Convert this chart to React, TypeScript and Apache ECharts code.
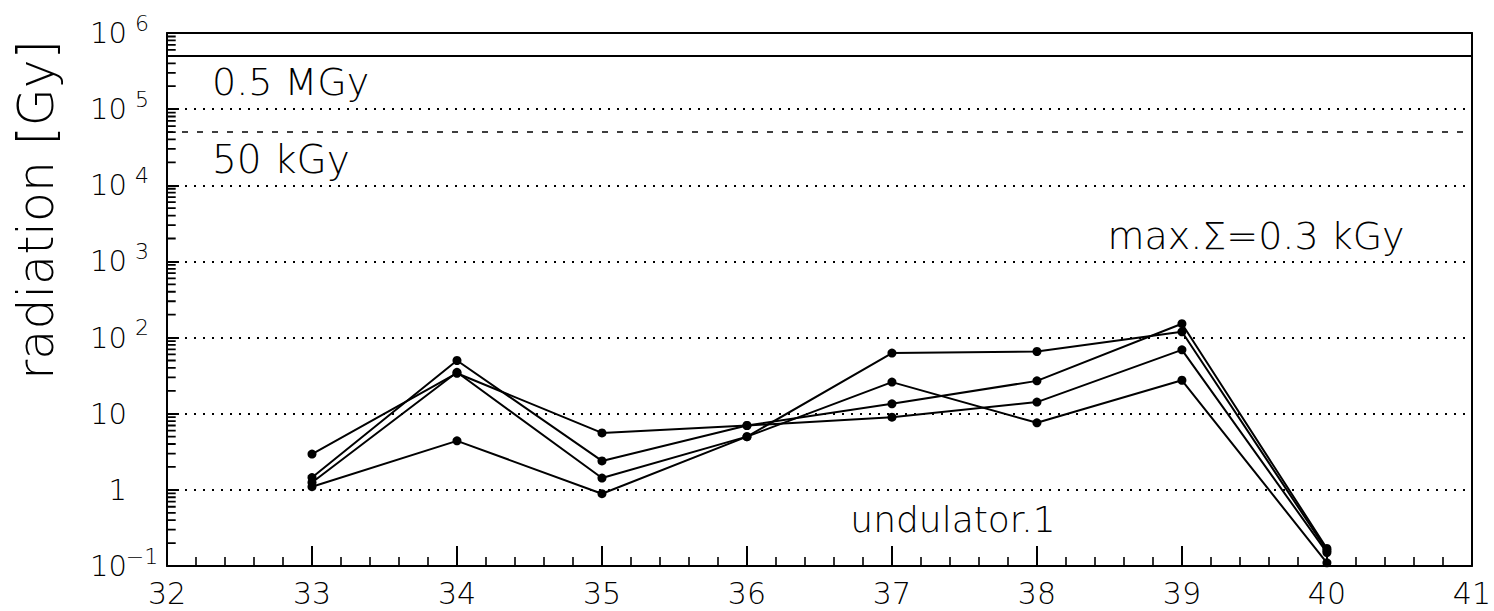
import React, { useEffect, useRef } from "react";
import * as echarts from "echarts";

// Undulator stations along the beam line
const stations = [33, 34, 35, 36, 37, 38, 39, 40];

// Accumulated dose per station [Gy], four dosimeter channels
const doseA = [2.95, 34, 5.6, 7.0, 9.0, 14.2, 69, 0.15];
const doseB = [1.45, 50, 2.4, 7.0, 13.5, 27, 152, 0.17];
const doseC = [1.25, 35, 1.43, 5.0, 62.5, 65.6, 119, 0.16];
const doseD = [1.1, 4.4, 0.89, 5.0, 26, 7.6, 27.5, 0.11];

// Axis ranges and tick labelling
const xMin = 32;
const xMax = 41;
const yDecadeExponents = [-1, 0, 1, 2, 3, 4, 5, 6];
const minorTickLength = 0.06; // in x units

// Dose limits
const limitMaterial = 5e5; // 0.5 MGy
const limitMagnet = 5e4; // 50 kGy
const limitLabels = ["0.5 MGy", "50 kGy"];
const sumLabel = "max.\u03A3=0.3 kGy";
const regionLabel = "undulator.1";
const yTitle = "radiation [Gy]";

const FONT = "DejaVu Sans";
const WEIGHT = 300;
const INK = "#000";

// Logarithmic minor tick positions (2..9 within each decade)
const minorTickValues: number[] = [];
for (let i = 0; i < yDecadeExponents.length - 1; i++) {
  for (let m = 2; m <= 9; m++) {
    minorTickValues.push(m * Math.pow(10, yDecadeExponents[i]));
  }
}

// Comb of short horizontal segments, separated by gaps
const minorTickComb: any[] = [];
minorTickValues.forEach((v) => {
  minorTickComb.push([xMin, v], [xMin + minorTickLength, v], [xMin, "-"]);
});

function decadeLabel(v: number): string {
  const e = Math.round(Math.log10(v));
  if (e === 0) return "{b|1}{e| }";
  if (e === 1) return "{b|10}{e| }";
  const sup = e < 0 ? "\u2212" + Math.abs(e) : String(e);
  return "{b|10}{s|" + sup + "}";
}

function makeSeries(name: string, values: number[]) {
  return {
    name,
    type: "line",
    xAxisIndex: 0,
    yAxisIndex: 0,
    data: stations.map((s, i) => [s, values[i]]),
    symbol: "circle",
    symbolSize: 9,
    itemStyle: { color: INK },
    lineStyle: { color: INK, width: 2 },
    z: 5,
  };
}

export default function App() {
  const ref = useRef<HTMLDivElement>(null);

  useEffect(() => {
    if (!ref.current) return;
    const chart = echarts.init(ref.current, undefined, { renderer: "svg" });

    const seriesA: any = makeSeries("A", doseA);
    seriesA.markLine = {
      silent: true,
      symbol: "none",
      label: { show: false },
      data: [
        { yAxis: limitMaterial, lineStyle: { type: "solid", width: 2, color: INK } },
        { yAxis: limitMagnet, lineStyle: { type: [6, 9], width: 1.6, color: INK } },
      ],
    };

    // log-scale minor ticks along the left axis, pointing into the plot
    const minorTickSeries = {
      name: "ticks",
      type: "line",
      xAxisIndex: 0,
      yAxisIndex: 0,
      data: minorTickComb,
      symbol: "none",
      showSymbol: false,
      connectNulls: false,
      clip: false,
      lineStyle: { color: INK, width: 1.8 },
      z: 6,
    };

    const textStyle = { fontFamily: FONT, fontWeight: WEIGHT, fill: INK };

    chart.setOption({
      animation: false,
      backgroundColor: "#fff",
      textStyle: { color: INK },
      grid: { left: 167, right: 14, top: 33, bottom: 45, containLabel: false },
      xAxis: [
        {
          type: "value",
          min: xMin,
          max: xMax,
          interval: 1,
          axisLine: { show: true, onZero: false, lineStyle: { color: INK, width: 2 } },
          axisTick: { show: true, inside: true, length: 20, lineStyle: { color: INK, width: 2 } },
          minorTick: { show: true, splitNumber: 5, length: 9, lineStyle: { color: INK, width: 1.6 } },
          axisLabel: { color: INK, fontSize: 30, fontFamily: FONT, fontWeight: WEIGHT, margin: 12 },
          splitLine: { show: false },
        },
        {
          type: "value",
          position: "top",
          min: xMin,
          max: xMax,
          axisLine: { show: true, onZero: false, lineStyle: { color: INK, width: 2 } },
          axisTick: { show: false },
          axisLabel: { show: false },
          splitLine: { show: false },
        },
      ],
      yAxis: [
        {
          type: "log",
          logBase: 10,
          min: 0.1,
          max: 1e6,
          splitNumber: 7,
          axisLine: { show: true, onZero: false, lineStyle: { color: INK, width: 2 } },
          axisTick: { show: true, inside: true, length: 12, lineStyle: { color: INK, width: 2 } },
          axisLabel: {
            margin: 14,
            color: INK,
            formatter: (v: number) => decadeLabel(v),
            rich: {
              b: { fontSize: 29, fontFamily: FONT, fontWeight: WEIGHT, color: INK },
              s: {
                fontSize: 22,
                fontFamily: FONT,
                fontWeight: WEIGHT,
                color: INK,
                padding: [0, 0, 20, 4],
                width: 22,
                align: "left",
              },
              e: { fontSize: 22, fontFamily: FONT, width: 26, color: INK },
            },
          },
          splitLine: { show: true, lineStyle: { color: INK, width: 2, type: [2, 7] } },
        },
        {
          type: "log",
          logBase: 10,
          position: "right",
          min: 0.1,
          max: 1e6,
          splitNumber: 7,
          axisLine: { show: true, onZero: false, lineStyle: { color: INK, width: 2 } },
          axisTick: { show: false },
          axisLabel: { show: false },
          splitLine: { show: false },
        },
      ],
      series: [
        seriesA,
        makeSeries("B", doseB),
        makeSeries("C", doseC),
        makeSeries("D", doseD),
        minorTickSeries,
      ],
      graphic: [
        {
          type: "text",
          x: 36,
          y: 210,
          rotation: Math.PI / 2,
          style: {
            ...textStyle,
            text: yTitle,
            fontSize: 49,
            align: "center",
            verticalAlign: "middle",
          },
        },
        {
          type: "text",
          x: 212,
          y: 82,
          style: { ...textStyle, text: limitLabels[0], fontSize: 38, align: "left", verticalAlign: "middle" },
        },
        {
          type: "text",
          x: 212,
          y: 159,
          style: { ...textStyle, text: limitLabels[1], fontSize: 39, align: "left", verticalAlign: "middle" },
        },
        {
          type: "text",
          x: 1256,
          y: 236,
          style: { ...textStyle, text: sumLabel, fontSize: 38, align: "center", verticalAlign: "middle" },
        },
        {
          type: "text",
          x: 953,
          y: 519,
          style: { ...textStyle, text: regionLabel, fontSize: 36, align: "center", verticalAlign: "middle" },
        },
      ],
    });

    return () => chart.dispose();
  }, []);

  return (
    <div
      ref={ref}
      style={{ position: "fixed", left: 0, top: 0, width: 1494, height: 611, background: "#fff" }}
    />
  );
}
